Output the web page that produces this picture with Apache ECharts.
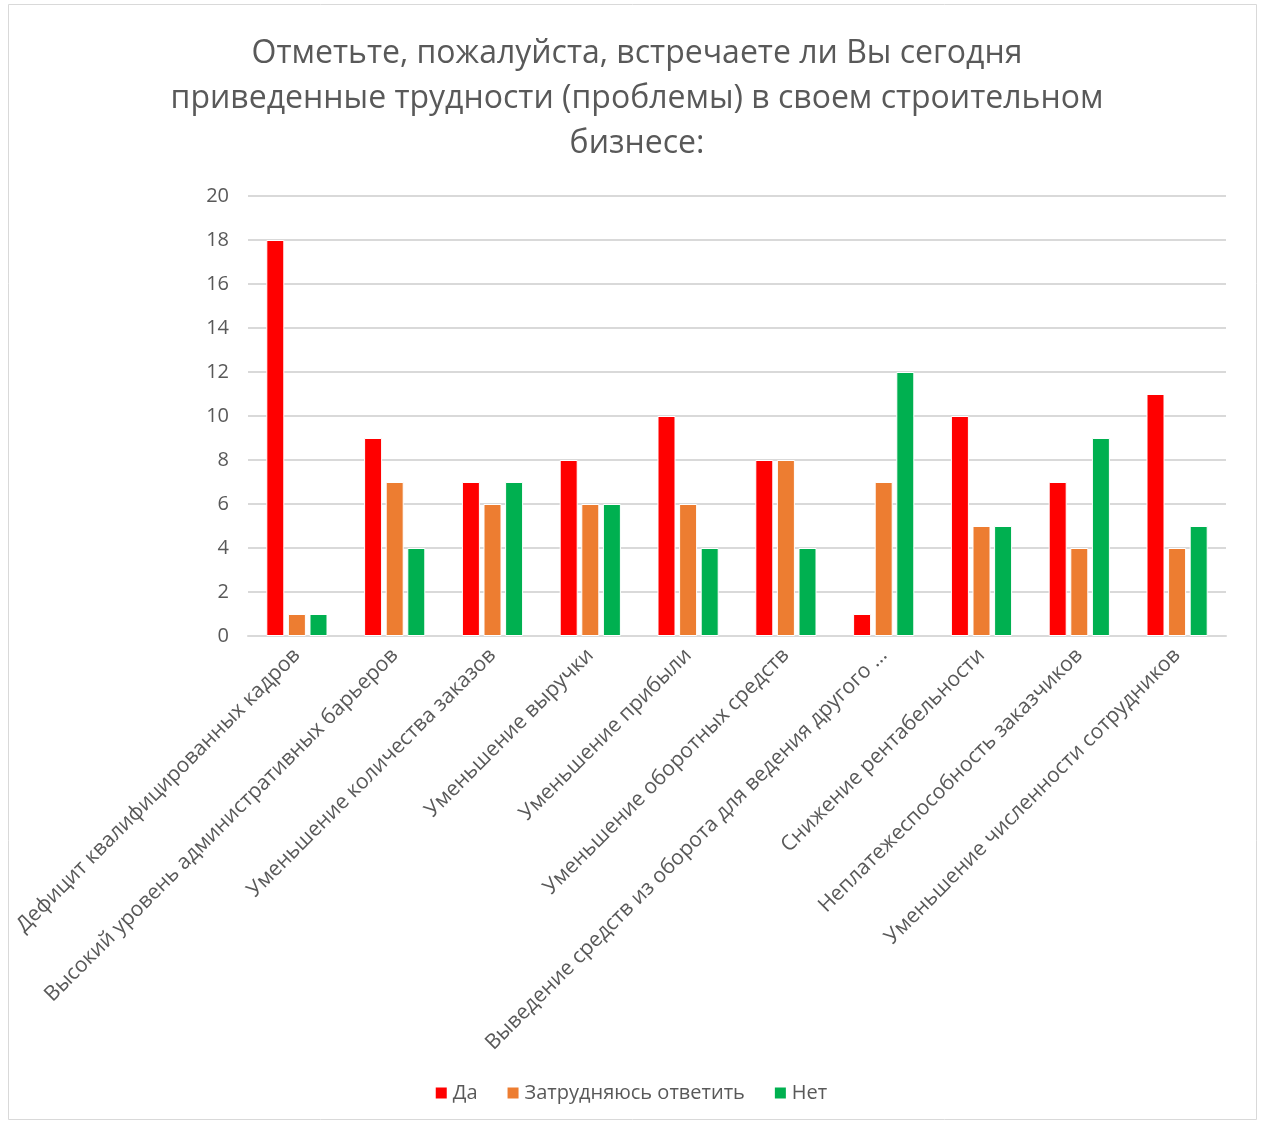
<!DOCTYPE html>
<html>
<head>
<meta charset="utf-8">
<script src="https://cdn.jsdelivr.net/npm/echarts@6/dist/echarts.min.js"></script>
<style>
  html, body { margin: 0; padding: 0; background: #fff; }
  #chart { width: 1261px; height: 1124px; }
</style>
</head>
<body>
<div id="chart"></div>
<script>
// Survey answers per difficulty
const categories = [
  'Дефицит квалифицированных кадров',
  'Высокий уровень административных барьеров',
  'Уменьшение количества заказов',
  'Уменьшение выручки',
  'Уменьшение прибыли',
  'Уменьшение оборотных средств',
  'Выведение средств из оборота для ведения другого …',
  'Снижение рентабельности',
  'Неплатежеспособность заказчиков',
  'Уменьшение численности сотрудников'
];
const yes = [18, 9, 7, 8, 10, 8, 1, 10, 7, 11];
const unsure = [1, 7, 6, 6, 6, 8, 7, 5, 4, 4];
const no = [1, 4, 7, 6, 4, 4, 12, 5, 9, 5];
const seriesNames = ['Да', 'Затрудняюсь ответить', 'Нет'];
const yTicks = { min: 0, max: 20, interval: 2 };

const FONT = '"Open Sans", "Noto Sans", sans-serif';
const TEXT = '#595959';
const colors = ['#FF0000', '#ED7D31', '#00B050'];

const chart = echarts.init(document.getElementById('chart'));

function bar(name, data, color) {
  return {
    name: name,
    type: 'bar',
    data: data,
    barWidth: 18,
    barGap: '20%',
    itemStyle: { color: color, borderColor: '#ffffff', borderWidth: 1 }
  };
}

chart.setOption({
  animation: false,
  backgroundColor: '#ffffff',
  textStyle: { fontFamily: FONT },
  title: {
    text: 'Отметьте, пожалуйста, встречаете ли Вы сегодня\nприведенные трудности (проблемы) в своем строительном\nбизнесе:',
    left: 632,
    top: 26,
    textAlign: 'center',
    textStyle: {
      fontFamily: FONT,
      fontSize: 32,
      fontWeight: 'normal',
      color: TEXT,
      lineHeight: 45
    }
  },
  legend: {
    bottom: 16,
    left: 'center',
    itemWidth: 13,
    itemHeight: 13,
    itemGap: 28,
    icon: 'rect',
    textStyle: { fontFamily: FONT, fontSize: 20, color: TEXT },
    data: seriesNames
  },
  grid: { left: 248, right: 35, top: 196, bottom: 488, containLabel: false },
  xAxis: {
    type: 'category',
    data: categories,
    axisLine: { show: true, lineStyle: { color: '#d9d9d9', width: 2 } },
    axisTick: { show: false },
    axisLabel: {
      rotate: 45,
      interval: 0,
      margin: 16,
      fontFamily: FONT,
      fontSize: 21,
      color: TEXT
    }
  },
  yAxis: {
    type: 'value',
    min: yTicks.min,
    max: yTicks.max,
    interval: yTicks.interval,
    axisLine: { show: false },
    axisTick: { show: false },
    splitLine: { lineStyle: { color: '#d9d9d9', width: 2 } },
    axisLabel: { fontFamily: FONT, fontSize: 20, color: TEXT, margin: 19 }
  },
  graphic: [{
    type: 'rect',
    shape: { x: 8.5, y: 4.5, width: 1248, height: 1115 },
    style: { fill: null, stroke: '#d9d9d9', lineWidth: 1 },
    silent: true,
    z: -1
  }],
  series: [
    bar(seriesNames[0], yes, colors[0]),
    bar(seriesNames[1], unsure, colors[1]),
    bar(seriesNames[2], no, colors[2])
  ]
});
</script>
</body>
</html>
